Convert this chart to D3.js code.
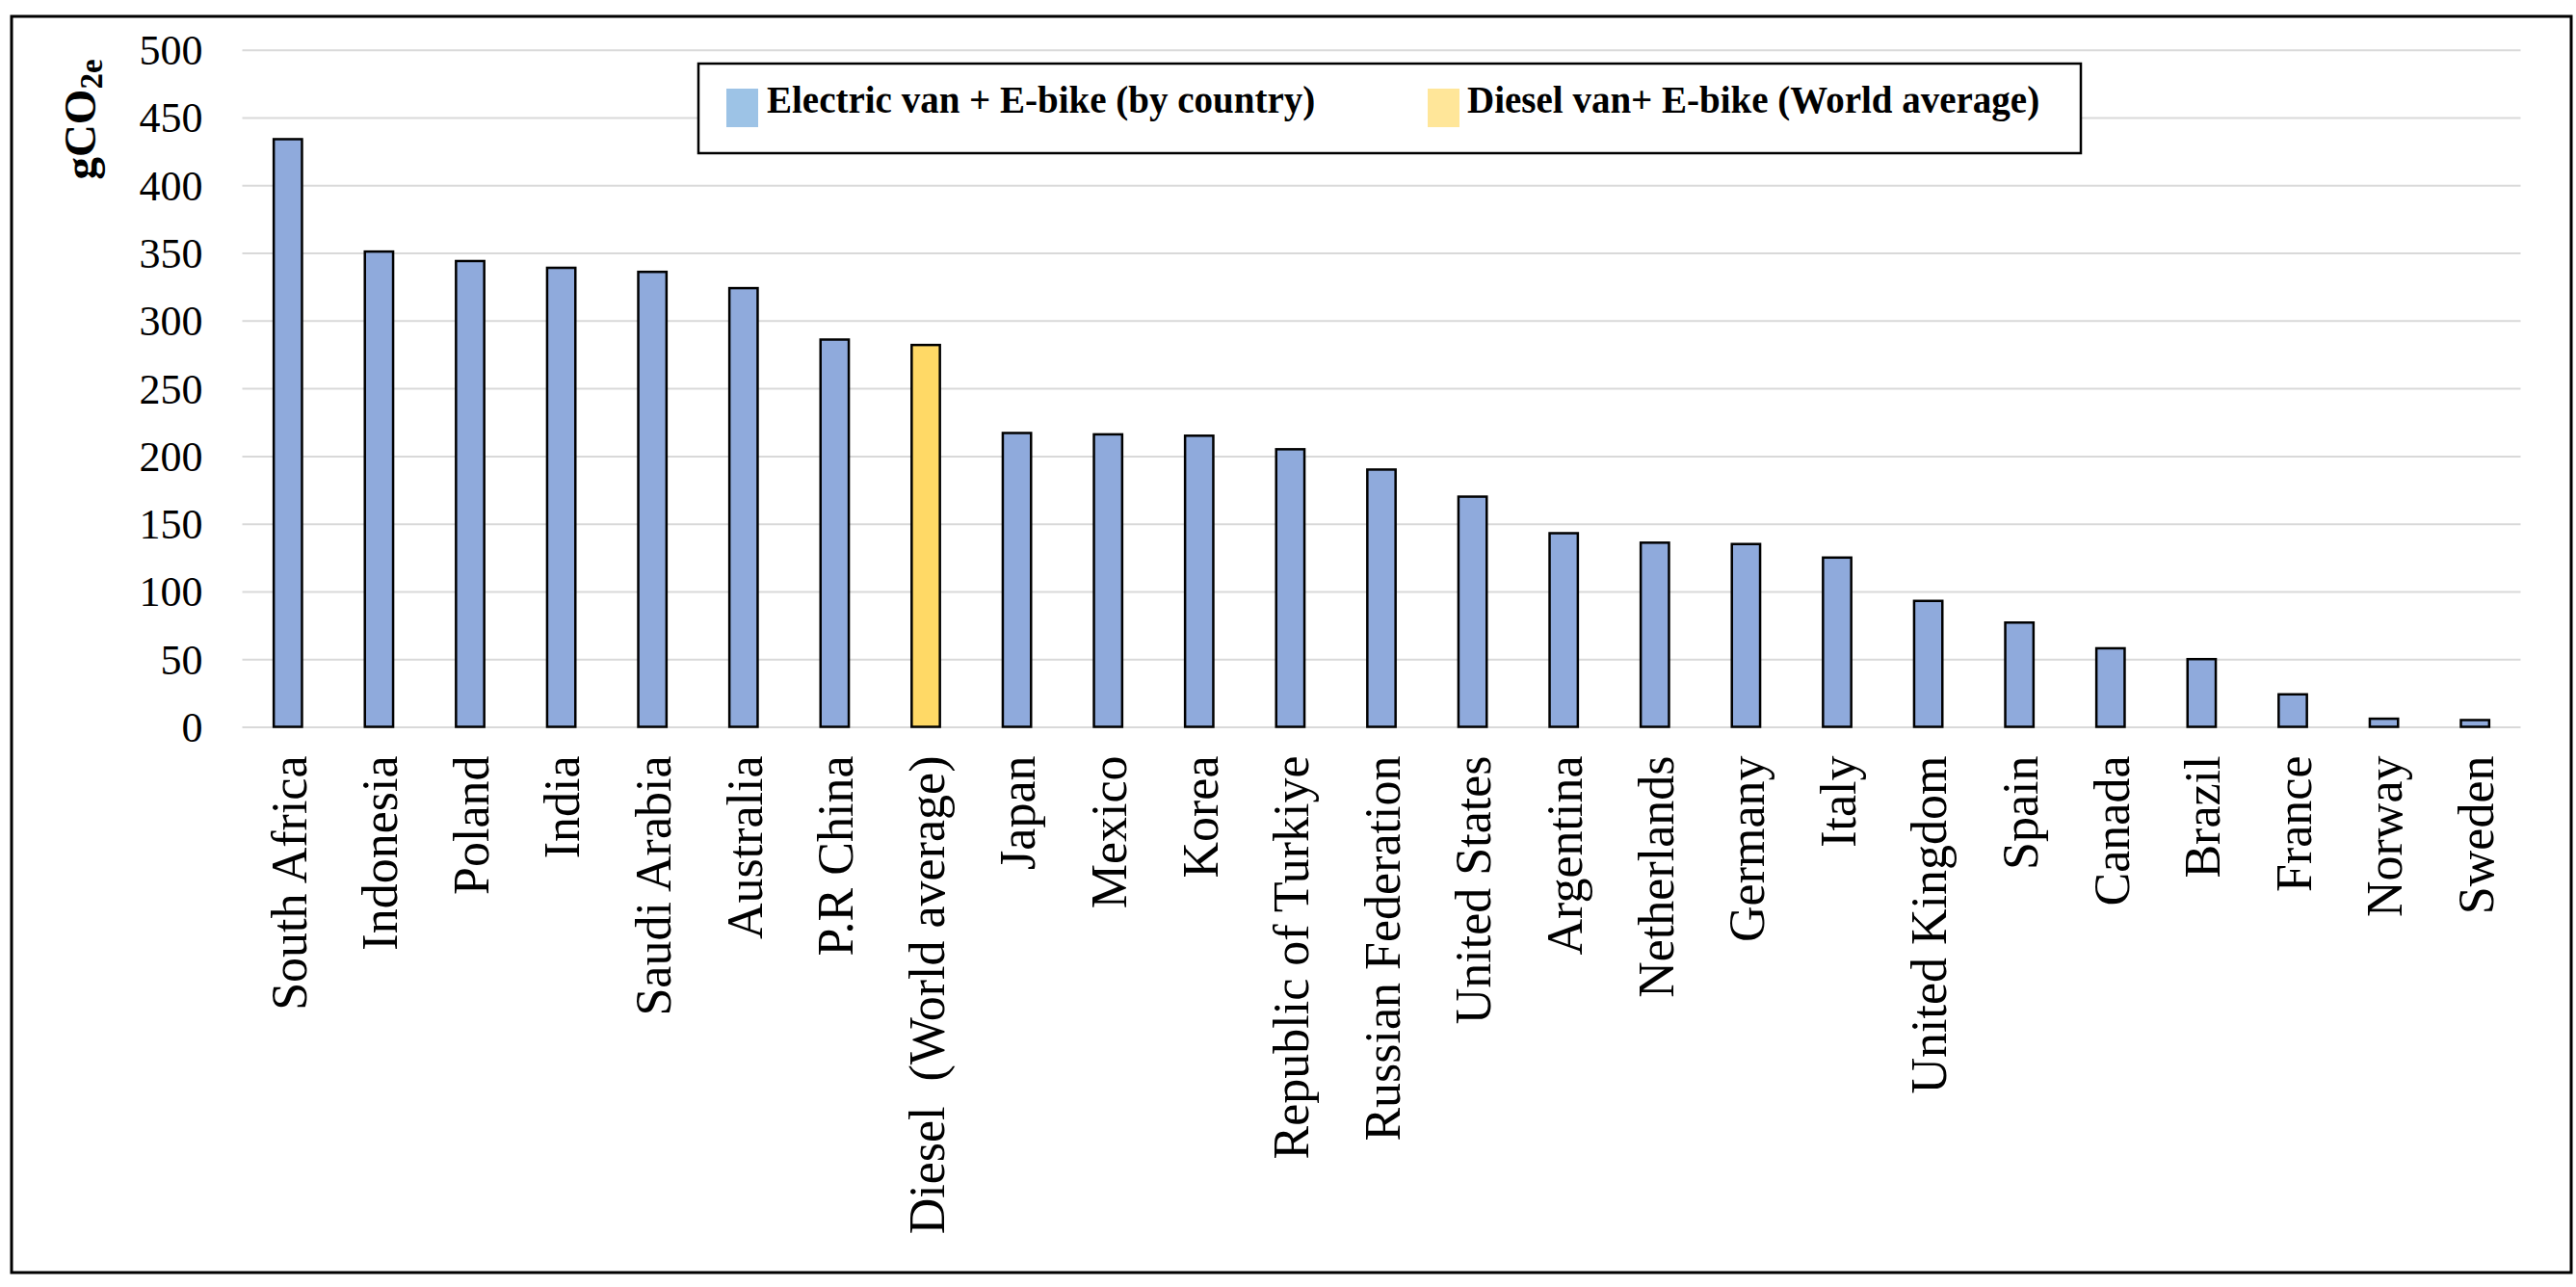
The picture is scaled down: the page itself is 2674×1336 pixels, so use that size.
<!DOCTYPE html>
<html>
<head>
<meta charset="utf-8">
<script src="https://cdn.jsdelivr.net/npm/d3@7"></script>
<style>
  html, body { margin: 0; padding: 0; background: #ffffff; }
  svg { display: block; }
  text { font-family: "Liberation Serif", "Times New Roman", serif; fill: #000; }
</style>
</head>
<body>
<svg id="chart" width="2674" height="1336"></svg>
<script>
// ---- data ----
const categories = [
  "South Africa", "Indonesia", "Poland", "India", "Saudi Arabia", "Australia",
  "P.R China", "Diesel  (World average)", "Japan", "Mexico", "Korea",
  "Republic of Turkiye", "Russian Federation", "United States", "Argentina",
  "Netherlands", "Germany", "Italy", "United Kingdom", "Spain", "Canada",
  "Brazil", "France", "Norway", "Sweden"
];
const values = [
  434, 351, 344, 339, 336, 324,
  286, 282, 217, 216, 215,
  205, 190, 170, 143,
  136, 135, 125, 93, 77, 58,
  50, 24, 6, 5
];
const seriesNames = ["Electric van + E-bike (by country)", "Diesel van+ E-bike (World average)"];
const dieselCategories = ["Diesel  (World average)"];
const yTicks = [0, 50, 100, 150, 200, 250, 300, 350, 400, 450, 500];

// ---- styling ----
const barColors = ["#8FAADC", "#FFD966"];
const legendColors = ["#9DC3E6", "#FFE699"];

const svg = d3.select("#chart");

// outer frame
svg.append("rect")
  .attr("x", 12).attr("y", 17)
  .attr("width", 2657).attr("height", 1304)
  .attr("fill", "#fff").attr("stroke", "#000").attr("stroke-width", 3);

const plot = { left: 251.5, right: 2616.5, top: 51.7, bottom: 754.5 };

const x = d3.scaleBand()
  .domain(categories)
  .range([plot.left, plot.right])
  .paddingInner(0.69)
  .paddingOuter(0.345);

const y = d3.scaleLinear()
  .domain([0, 500])
  .range([plot.bottom, plot.top]);

// gridlines + y tick labels
const yAxis = svg.append("g")
  .attr("transform", `translate(${plot.left},0)`)
  .call(d3.axisLeft(y).tickValues(yTicks).tickSize(-(plot.right - plot.left)).tickPadding(41).tickFormat(d3.format("d")));
yAxis.select(".domain").remove();
yAxis.selectAll(".tick line").attr("stroke", "#D9D9D9").attr("stroke-width", 2);
yAxis.selectAll(".tick text")
  .style("font-family", '"Liberation Serif", "Times New Roman", serif')
  .style("font-size", "44px")
  .attr("fill", "#000")
  .attr("dy", "0.34em");

// bars
svg.append("g").selectAll("rect")
  .data(categories.map((c, i) => ({ c, v: values[i] })))
  .join("rect")
  .attr("x", d => x(d.c))
  .attr("width", x.bandwidth())
  .attr("y", d => y(d.v))
  .attr("height", d => y(0) - y(d.v))
  .attr("fill", d => dieselCategories.includes(d.c) ? barColors[1] : barColors[0])
  .attr("stroke", "#000")
  .attr("stroke-width", 2.5);

// x axis labels (rotated)
const xAxis = svg.append("g")
  .attr("transform", `translate(0,${plot.bottom})`)
  .call(d3.axisBottom(x).tickSize(0).tickPadding(0));
xAxis.select(".domain").remove();
xAxis.selectAll(".tick text")
  .style("font-family", '"Liberation Serif", "Times New Roman", serif')
  .style("font-size", "52px")
  .style("white-space", "pre")
  .attr("fill", "#000")
  .attr("text-anchor", "end")
  .attr("transform", "rotate(-90)")
  .attr("x", -30)
  .attr("y", 0)
  .attr("dy", "0.36em");

// y axis title gCO2e
const yt = svg.append("text")
  .attr("transform", "translate(99,124) rotate(-90)")
  .attr("text-anchor", "middle")
  .style("font-size", "47px")
  .style("font-weight", "bold");
yt.append("tspan").text("gCO");
yt.append("tspan").text("2e").attr("dy", "7").style("font-size", "33px");

// legend
const legend = svg.append("g");
legend.append("rect")
  .attr("x", 725).attr("y", 66)
  .attr("width", 1435).attr("height", 93)
  .attr("fill", "#fff").attr("stroke", "#000").attr("stroke-width", 2.5);
const legendItems = [
  { name: seriesNames[0], color: legendColors[0], sx: 754, tx: 796 },
  { name: seriesNames[1], color: legendColors[1], sx: 1482, tx: 1523 }
];
legendItems.forEach(it => {
  legend.append("rect")
    .attr("x", it.sx).attr("y", 92)
    .attr("width", 33).attr("height", 40)
    .attr("fill", it.color);
  legend.append("text")
    .attr("x", it.tx).attr("y", 117)
    .style("font-size", "39px")
    .style("font-weight", "bold")
    .text(it.name);
});
</script>
</body>
</html>
